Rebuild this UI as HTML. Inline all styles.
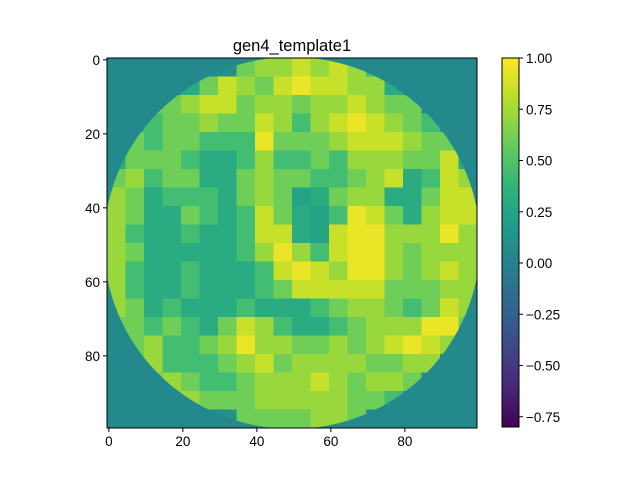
<!DOCTYPE html>
<html><head><meta charset="utf-8"><style>
body{margin:0;background:#fff;}
svg text{font-family:"Liberation Sans","DejaVu Sans",sans-serif;fill:#000;}
</style></head><body>
<svg id="c" width="640" height="480" xmlns="http://www.w3.org/2000/svg">
<defs><clipPath id="circ"><ellipse cx="292" cy="243" rx="188" ry="186"/></clipPath>
<linearGradient id="cbg" x1="0" y1="1" x2="0" y2="0"></linearGradient></defs>
<rect x="0" y="0" width="640" height="480" fill="#fff"/>
</svg>
<script>
const gridValues = [
[.1,.1,.1,.1,.1,.1,.1,.6,.72,.72,.85,.72,.85,.72,.45,.1,.1,.1,.1,.1],
[.1,.1,.1,.1,.3,.6,.85,.72,.6,.85,.95,.85,.85,.72,.72,.3,.1,.1,.1,.1],
[.1,.1,.6,.6,.72,.85,.85,.6,.72,.72,.6,.72,.72,.85,.72,.6,.6,.1,.1,.1],
[.1,.3,.45,.6,.6,.72,.6,.6,.85,.72,.45,.72,.85,.95,.85,.72,.6,.45,.1,.1],
[.1,.6,.45,.6,.6,.45,.45,.45,.95,.6,.6,.6,.72,.85,.85,.85,.72,.6,.6,.1],
[.3,.6,.6,.6,.45,.3,.3,.45,.72,.45,.45,.6,.45,.72,.72,.72,.6,.6,.85,.3],
[.6,.72,.45,.6,.6,.3,.3,.6,.72,.6,.6,.45,.45,.6,.72,.85,.3,.45,.85,.72],
[.72,.6,.3,.45,.45,.45,.3,.6,.72,.6,.25,.3,.6,.72,.72,.3,.3,.6,.85,.85],
[.72,.6,.3,.3,.6,.45,.3,.45,.85,.6,.3,.25,.45,.95,.85,.6,.3,.72,.85,.85],
[.72,.45,.3,.3,.45,.3,.3,.45,.85,.85,.3,.25,.85,.95,.95,.72,.72,.72,.95,.72],
[.72,.6,.3,.3,.3,.3,.3,.45,.72,.95,.72,.45,.85,.95,.95,.72,.6,.72,.72,.72],
[.72,.45,.3,.3,.45,.3,.3,.3,.45,.85,.95,.85,.72,.95,.95,.72,.6,.72,.85,.72],
[.72,.45,.3,.3,.45,.3,.3,.3,.45,.6,.85,.85,.85,.85,.85,.6,.6,.6,.72,.72],
[.72,.6,.3,.45,.3,.3,.3,.45,.3,.3,.3,.45,.6,.72,.72,.6,.45,.6,.85,.72],
[.6,.6,.45,.6,.45,.3,.6,.85,.72,.45,.3,.3,.45,.6,.72,.72,.72,.95,.95,.6],
[.1,.6,.72,.45,.45,.6,.72,.95,.72,.72,.6,.6,.72,.6,.72,.85,.95,.85,.72,.1],
[.1,.6,.72,.45,.45,.45,.6,.72,.85,.6,.72,.72,.72,.72,.6,.6,.72,.72,.1,.1],
[.1,.1,.6,.72,.6,.45,.45,.6,.72,.72,.72,.85,.72,.6,.72,.72,.6,.1,.1,.1],
[.1,.1,.1,.6,.72,.6,.6,.6,.72,.72,.72,.72,.72,.6,.6,.45,.1,.1,.1,.1],
[.1,.1,.1,.1,.1,.1,.1,.6,.6,.6,.6,.72,.72,.6,.1,.1,.1,.1,.1,.1]
];
const backgroundValue = 0.05;
const cellSize = 5;
const xTicks = [0,20,40,60,80];
const yTicks = [0,20,40,60,80];
const cbTicks = [1.00,0.75,0.50,0.25,0.00,-0.25,-0.50,-0.75];
const vmin = -0.8, vmax = 1.0;

const NS="http://www.w3.org/2000/svg";
const svg=document.getElementById('c');
const AX={x:107,y:58,w:370,h:370}, N=100;
const xs=v=>AX.x+(v+0.5)*AX.w/N;
const ys=v=>AX.y+(v+0.5)*AX.h/N;
const CB={x:502,y:58,w:17,h:369};
const cbs=v=>CB.y+(vmax-v)/(vmax-vmin)*CB.h;
const vir=[[68,1,84],[72,40,120],[62,74,137],[49,104,142],[38,130,142],[31,158,137],[53,183,121],[110,206,88],[181,222,43],[253,231,37]];
function color(v){let t=Math.max(0,Math.min(1,(v-vmin)/(vmax-vmin)))*(vir.length-1);let i=Math.min(Math.floor(t),vir.length-2),f=t-i;
const c=vir[i].map((a,k)=>Math.round(a+(vir[i+1][k]-a)*f));return `rgb(${c[0]},${c[1]},${c[2]})`;}
function el(t,a,p){const e=document.createElementNS(NS,t);for(const k in a)e.setAttribute(k,a[k]);(p||svg).appendChild(e);return e;}

const bg=el('rect',{x:AX.x,y:AX.y,width:AX.w,height:AX.h,fill:color(backgroundValue)});


const g=el('g',{'clip-path':'url(#circ)'});


const cw=AX.w/N;
gridValues.forEach((row,r)=>row.forEach((v,c)=>{
  const x0=xs(c*cellSize)-cw/2, y0=ys(r*cellSize)-cw/2;
  const rc=el('rect',{x:x0,y:y0,width:cw*cellSize+0.3,height:cw*cellSize+0.3,fill:color(v)},g);
  
  
}));
const fr=el('rect',{x:AX.x,y:AX.y,width:AX.w,height:AX.h,fill:'none',stroke:'#000','stroke-width':1});



xTicks.forEach(t=>{const x=xs(t);
  el('line',{x1:x,y1:AX.y+AX.h,x2:x,y2:AX.y+AX.h+4,stroke:'#000'});
  const tx=el('text',{x:x,y:AX.y+AX.h+18,'font-size':13.5,'text-anchor':'middle'});tx.textContent=t;
  
  
});
yTicks.forEach(t=>{const y=ys(t);
  el('line',{x1:AX.x,y1:y,x2:AX.x-4,y2:y,stroke:'#000'});
  const tx=el('text',{x:AX.x-7,y:y+5,'font-size':13.5,'text-anchor':'end'});tx.textContent=t;
  
  
});
const title=el('text',{x:292,y:51,'font-size':16.5,'text-anchor':'middle'});title.textContent='gen4_template1';



const grad=document.getElementById('cbg');
for(let i=0;i<=20;i++){el('stop',{offset:i/20,'stop-color':color(vmin+(vmax-vmin)*i/20)},grad);}
const cb=el('rect',{x:CB.x,y:CB.y,width:CB.w,height:CB.h,fill:'url(#cbg)',stroke:'#000','stroke-width':1});


cbTicks.forEach(t=>{const y=cbs(t);
  el('line',{x1:CB.x+CB.w,y1:y,x2:CB.x+CB.w+4,y2:y,stroke:'#000'});
  const tx=el('text',{x:CB.x+CB.w+7,y:y+5,'font-size':13.5});tx.textContent=t.toFixed(2).replace('-','\u2212');
  
  
});
</script>
</body></html>
